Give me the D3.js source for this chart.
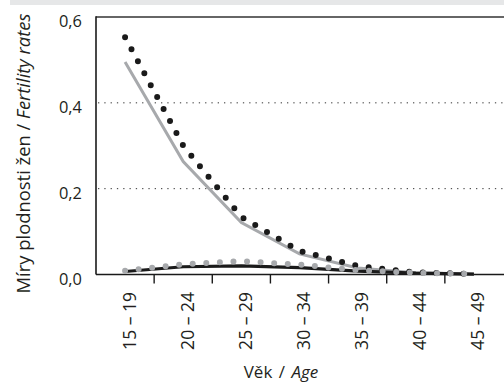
<!DOCTYPE html>
<html><head><meta charset="utf-8">
<script src="https://cdn.jsdelivr.net/npm/d3@7"></script>
<style>
html,body{margin:0;padding:0;background:#fff;}
svg{display:block;font-family:"Open Sans","Noto Sans",sans-serif;}
</style></head>
<body><svg id="c" width="504" height="383"></svg>
<script>
const categories = ["15 – 19","20 – 24","25 – 29","30 – 34","35 – 39","40 – 44","45 – 49"];
const seriesBlackDotted = [0.553, 0.300, 0.134, 0.055, 0.020, 0.005, 0.001];
const seriesGreySolid   = [0.495, 0.263, 0.121, 0.048, 0.015, 0.004, 0.001];
const seriesBlackSolid  = [0.007, 0.018, 0.020, 0.016, 0.008, 0.003, 0.001];
const seriesGreyDotted  = [0.009, 0.024, 0.031, 0.023, 0.010, 0.004, 0.001];
const yTicks = [0, 0.2, 0.4, 0.6];
const gridValues = [0.2, 0.4];

const svg = d3.select("#c");
const L = 96, R = 503, T = 17, B = 274.5;
const grey = "#a7a9ac", dark = "#1a1a1a", txt = "#231f20";

svg.append("rect").attr("x",10).attr("y",0).attr("width",494).attr("height",5).attr("fill","#e6e7e8");

const x = d3.scaleBand().domain(categories).range([L, R]).padding(0);
const y = d3.scaleLinear().domain([0, 0.6]).range([B, T]);

// grid
svg.append("g").selectAll("line").data(gridValues).join("line")
  .attr("x1", L+2).attr("x2", 504).attr("y1", d=>y(d)).attr("y2", d=>y(d))
  .attr("stroke","#333").attr("stroke-width",1).attr("stroke-dasharray","1.3,5");

// frame
svg.append("line").attr("x1",L).attr("x2",504).attr("y1",T).attr("y2",T).attr("stroke","#333").attr("stroke-width",1.6);
svg.append("line").attr("x1",L).attr("x2",L).attr("y1",T-0.8).attr("y2",B).attr("stroke","#1a1a1a").attr("stroke-width",1.6);

// y axis labels
const yAxis = d3.axisLeft(y).tickValues(yTicks).tickSize(0).tickPadding(14)
  .tickFormat(d => d3.format(".1f")(d).replace(".", ","));
const gy = svg.append("g").attr("transform",`translate(${L},0)`).call(yAxis);
gy.select(".domain").remove();
gy.selectAll("text").attr("font-size",16.4).attr("fill",txt).attr("font-family","Open Sans, sans-serif")
  .attr("dy","0.6em");

// x axis
const gx = svg.append("g").attr("transform",`translate(0,${B})`);
gx.append("line").attr("x1",L).attr("x2",504).attr("y1",0).attr("y2",0).attr("stroke","#1a1a1a").attr("stroke-width",1.6);
const boundaries = categories.slice(1).map(c => x(c));
gx.selectAll("line.tk").data(boundaries).join("line").attr("class","tk")
  .attr("x1",d=>d).attr("x2",d=>d).attr("y1",0).attr("y2",9).attr("stroke","#1a1a1a").attr("stroke-width",1.4);
gx.selectAll("text").data(categories).join("text")
  .attr("transform", d => `translate(${x(d)+x.bandwidth()/2+10.5},17.5) rotate(-90)`)
  .attr("text-anchor","end").attr("font-size",17.5).attr("fill",txt).text(d=>d);

// titles
const xt = svg.append("text").attr("x",281).attr("y",377.5).attr("text-anchor","middle").attr("font-size",17).attr("fill",txt)
  .attr("word-spacing",2);
xt.append("tspan").text("Věk / ");
xt.append("tspan").attr("font-style","italic").text("Age");

const yt = svg.append("text").attr("transform","translate(30,153.5) rotate(-90)").attr("text-anchor","middle").attr("font-size",18.4).attr("fill",txt);
yt.append("tspan").text("Míry plodnosti žen  / ");
yt.append("tspan").attr("font-style","italic").text("Fertility rates");

// lines
const line = d3.line().x((d,i)=>x(categories[i])+x.bandwidth()/2).y(d=>y(d));
svg.append("path").datum(seriesGreySolid).attr("d",line).attr("fill","none").attr("stroke",grey).attr("stroke-width",3);
svg.append("path").datum(seriesBlackSolid).attr("d",line).attr("fill","none").attr("stroke",dark).attr("stroke-width",3.2);
svg.append("path").datum(seriesBlackDotted).attr("d",line).attr("fill","none").attr("stroke",dark).attr("stroke-width",6)
  .attr("stroke-linecap","round").attr("stroke-dasharray","0,13.6");
svg.append("path").datum(seriesGreyDotted).attr("d",line).attr("fill","none").attr("stroke",grey).attr("stroke-width",6)
  .attr("stroke-linecap","round").attr("stroke-dasharray","0,13.6");
</script></body></html>
